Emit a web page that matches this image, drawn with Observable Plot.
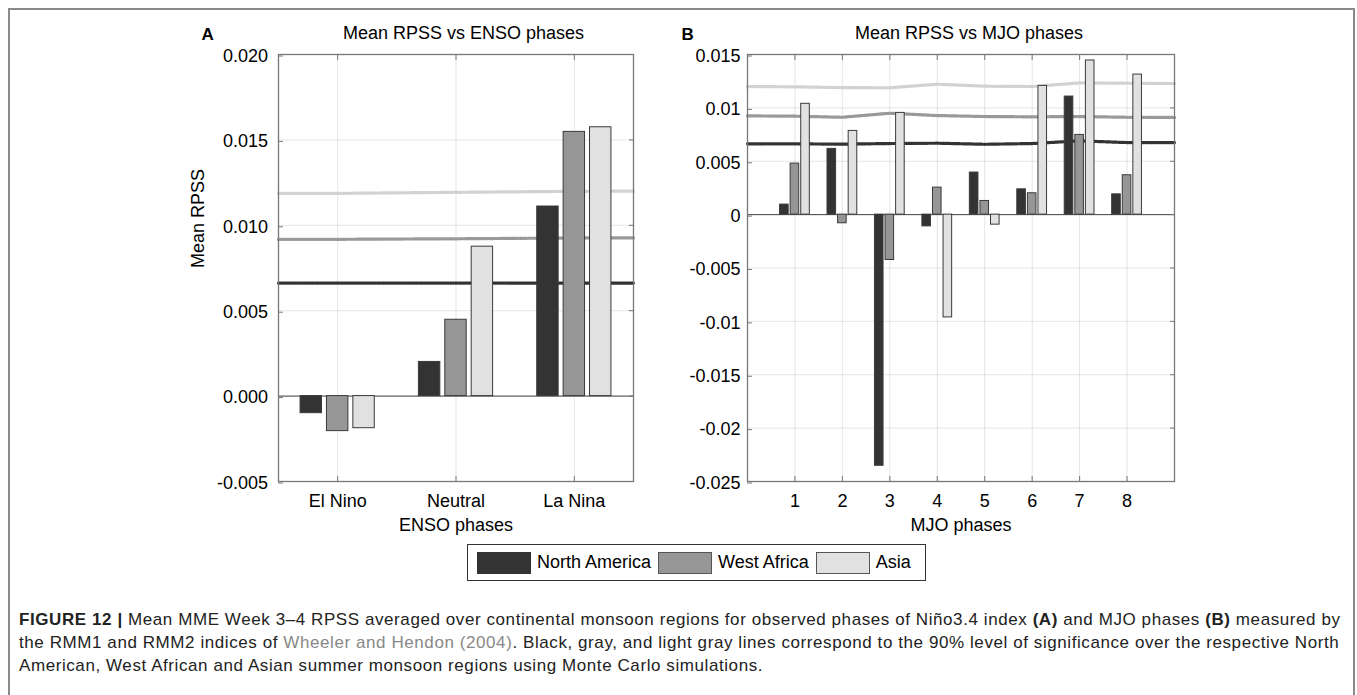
<!DOCTYPE html>
<html>
<head>
<meta charset="utf-8">
<script src="https://cdn.jsdelivr.net/npm/d3@7"></script>
<script src="https://cdn.jsdelivr.net/npm/@observablehq/plot@0.6"></script>
<style>
  html, body { margin: 0; padding: 0; background: #fff; }
  body { width: 1357px; height: 695px; position: relative; overflow: hidden;
         font-family: "Liberation Sans", Arial, Helvetica, sans-serif; color: #000; }
  #border { position: absolute; left: 8px; top: 8px; width: 1347px; height: 720px;
            border: 2px solid #8a8a8a; box-sizing: border-box; }
  .panel { position: absolute; top: 0; }
  #legend { position: absolute; left: 467px; top: 544px; width: 459px; height: 37px;
            border: 1px solid #333; box-sizing: border-box; display: flex; align-items: center;
            padding-left: 9px; font-size: 18px; }
  #legend .sw { width: 54px; height: 22px; box-sizing: border-box; border: 1px solid #333; margin-right: 6px; }
  #legend .lab { margin-right: 7px; }
  #caption { position: absolute; left: 19px; top: 608px; font-size: 17px; line-height: 23px;
             color: #222; white-space: nowrap; letter-spacing: 0.58px; }
  #caption .link { color: #888; }
</style>
</head>
<body>
<div id="border"></div>
<div id="panelA" class="panel" style="left:0px"></div>
<div id="panelB" class="panel" style="left:660px"></div>
<div id="legend"></div>
<div id="caption">
  <b>FIGURE 12 |</b> Mean MME Week 3–4 RPSS averaged over continental monsoon regions for observed phases of Niño3.4 index <b>(A)</b> and MJO phases <b>(B)</b> measured by<br>
  the RMM1 and RMM2 indices of <span class="link">Wheeler and Hendon (2004)</span>. Black, gray, and light gray lines correspond to the 90% level of significance over the respective North<br>
  American, West African and Asian summer monsoon regions using Monte Carlo simulations.
</div>
<script>
// ---------------- data ----------------
const regions = ["North America", "West Africa", "Asia"];
const regionFills = ["#333333", "#969696", "#e1e1e1"];
const sigColors = ["#333333", "#999999", "#d2d2d2"];

// Panel A: ENSO
const ensoPhases = ["El Nino", "Neutral", "La Nina"];
const ensoNA   = [-0.0010, 0.0020, 0.0111];
const ensoWA   = [-0.00205, 0.00447, 0.01547];
const ensoAsia = [-0.00188, 0.00875, 0.01574];
const ensoYTicks = [-0.005, 0, 0.005, 0.01, 0.015, 0.02];
const ensoYLabels = ["-0.005", "0.000", "0.005", "0.010", "0.015", "0.020"];
// significance lines (phase axis from left edge to right edge)
const ensoSigX    = [0.5, 1, 2, 3, 3.5];
const ensoSigNA   = [0.00662, 0.00662, 0.00662, 0.00662, 0.00662];
const ensoSigWA   = [0.00918, 0.00918, 0.00921, 0.00926, 0.00926];
const ensoSigAsia = [0.01187, 0.01187, 0.01193, 0.01199, 0.01200];

// Panel B: MJO
const mjoPhases = ["1", "2", "3", "4", "5", "6", "7", "8"];
const mjoNA   = [0.00094, 0.00616, -0.02353, -0.0011, 0.00394, 0.00237, 0.01106, 0.0019];
const mjoWA   = [0.00478, -0.00081, -0.00425, 0.00253, 0.00128, 0.0020, 0.00747, 0.00369];
const mjoAsia = [0.01038, 0.00784, 0.00953, -0.00963, -0.00094, 0.01206, 0.01444, 0.01312];
const mjoYTicks = [-0.025, -0.02, -0.015, -0.01, -0.005, 0, 0.005, 0.01, 0.015];
const mjoYLabels = ["-0.025", "-0.02", "-0.015", "-0.01", "-0.005", "0", "0.005", "0.01", "0.015"];
const mjoSigX    = [0, 1, 2, 3, 4, 5, 6, 7, 8, 9];
const mjoSigNA   = [0.00663, 0.00663, 0.0066, 0.00666, 0.00669, 0.00659, 0.00666, 0.00691, 0.00675, 0.00675];
const mjoSigWA   = [0.00925, 0.00922, 0.00912, 0.0095, 0.00928, 0.00919, 0.00916, 0.00919, 0.00912, 0.0091];
const mjoSigAsia = [0.0120, 0.01197, 0.0119, 0.01188, 0.01222, 0.01203, 0.0120, 0.01234, 0.01231, 0.01228];

// ---------------- helpers ----------------
const groupStep = 0.223;   // bar spacing within a group (phase units)
const barWidth = 0.181;    // bar width (phase units)

function barRows(phases, series) {
  const rows = [];
  phases.forEach((p, i) => {
    series.forEach((vals, j) => rows.push({pos: i + 1, j, region: regions[j], value: vals[i]}));
  });
  return rows;
}
function sigRows(xs, series) {
  const rows = [];
  series.forEach((vals, j) => xs.forEach((x, k) => rows.push({x, y: vals[k], region: regions[j], j})));
  return rows;
}

function panel(cfg) {
  const bars = barRows(cfg.phases, cfg.series);
  const sig = sigRows(cfg.sigX, cfg.sig);
  const xt = cfg.phases.map((p, i) => i + 1);
  const marks = [
    Plot.gridY(cfg.yTicks, {stroke: "#000", strokeOpacity: 0.1}),
    Plot.gridX(xt, {stroke: "#000", strokeOpacity: 0.1}),
  ];
  // significance lines: light, gray, dark order (dark on top)
  [2, 1, 0].forEach(j => {
    marks.push(Plot.line(sig.filter(d => d.j === j), {
      x: "x", y: "y", stroke: sigColors[j], strokeWidth: 3.2, strokeDasharray: "1.3,1.3", curve: "linear"
    }));
  });
  marks.push(
    Plot.ruleY([0], {stroke: "#444", strokeWidth: 1}),
    Plot.rectY(bars, {
      x1: d => d.pos + (d.j - 1) * groupStep - barWidth / 2,
      x2: d => d.pos + (d.j - 1) * groupStep + barWidth / 2,
      y1: 0, y2: "value", fill: "region", stroke: "#3a3a3a", strokeWidth: 1
    }),
    Plot.axisY(cfg.yTicks, {anchor: "left", tickSize: -5, tickPadding: cfg.yPad, stroke: "#777",
      tickFormat: d => cfg.yLabels[cfg.yTicks.indexOf(d)], label: null, dy: 1.5}),
    Plot.axisY(cfg.yTicks, {anchor: "right", tickSize: -5, stroke: "#777", fill: "none", label: null}),
    Plot.axisX(xt, {anchor: "bottom", tickSize: -5, tickPadding: 18, stroke: "#777",
      tickFormat: d => cfg.phases[d - 1], label: null}),
    Plot.axisX(xt, {anchor: "top", tickSize: -5, stroke: "#777", fill: "none", label: null}),
    Plot.frame({stroke: "#777", strokeWidth: 1.3}),
    Plot.text([cfg.xLabel], {text: d => d, frameAnchor: "bottom", dy: 44, lineAnchor: "middle"}),
    Plot.text([cfg.title], {text: d => d, frameAnchor: "top", dx: cfg.titleDx, dy: -21, lineAnchor: "middle"}),
    Plot.text([cfg.letter], {text: d => d, frameAnchor: "top-left", dx: cfg.letterDx, dy: -20,
      lineAnchor: "middle", fontWeight: "bold", fontSize: 17})
  );
  if (cfg.yLabel) {
    marks.push(Plot.text([cfg.yLabel], {text: d => d, frameAnchor: "left", dx: -80, rotate: -90, lineAnchor: "middle"}));
  }
  return Plot.plot({
    width: cfg.width, height: 545,
    marginLeft: cfg.ml, marginRight: cfg.mr, marginTop: 54, marginBottom: 64,
    style: {fontFamily: "'Liberation Sans', Arial, Helvetica, sans-serif", fontSize: "18px", color: "#000", background: "transparent", overflow: "visible"},
    x: {domain: cfg.xDomain, label: null},
    y: {domain: [cfg.yTicks[0], cfg.yTicks[cfg.yTicks.length - 1]], label: null},
    color: {domain: regions, range: regionFills},
    marks
  });
}

document.getElementById("panelA").append(panel({
  width: 660, ml: 278, mr: 27,
  phases: ensoPhases, series: [ensoNA, ensoWA, ensoAsia],
  sigX: ensoSigX, sig: [ensoSigNA, ensoSigWA, ensoSigAsia],
  yTicks: ensoYTicks, yLabels: ensoYLabels, yPad: 15.5,
  xDomain: [0.5, 3.5], xLabel: "ENSO phases", yLabel: "Mean RPSS",
  title: "Mean RPSS vs ENSO phases", titleDx: 7.5, letter: "A", letterDx: -77
}));
document.getElementById("panelB").append(panel({
  width: 690, ml: 87, mr: 176,
  phases: mjoPhases, series: [mjoNA, mjoWA, mjoAsia],
  sigX: mjoSigX, sig: [mjoSigNA, mjoSigWA, mjoSigAsia],
  yTicks: mjoYTicks, yLabels: mjoYLabels, yPad: 12,
  xDomain: [0, 9], xLabel: "MJO phases", yLabel: null,
  title: "Mean RPSS vs MJO phases", titleDx: 8, letter: "B", letterDx: -66
}));

// legend
const legend = document.getElementById("legend");
regions.forEach((r, i) => {
  const sw = document.createElement("div");
  sw.className = "sw";
  sw.style.background = regionFills[i];
  if (i > 0) sw.style.borderColor = "#555";
  const lab = document.createElement("span");
  lab.className = "lab";
  lab.textContent = r;
  legend.append(sw, lab);
});
</script>
</body>
</html>
